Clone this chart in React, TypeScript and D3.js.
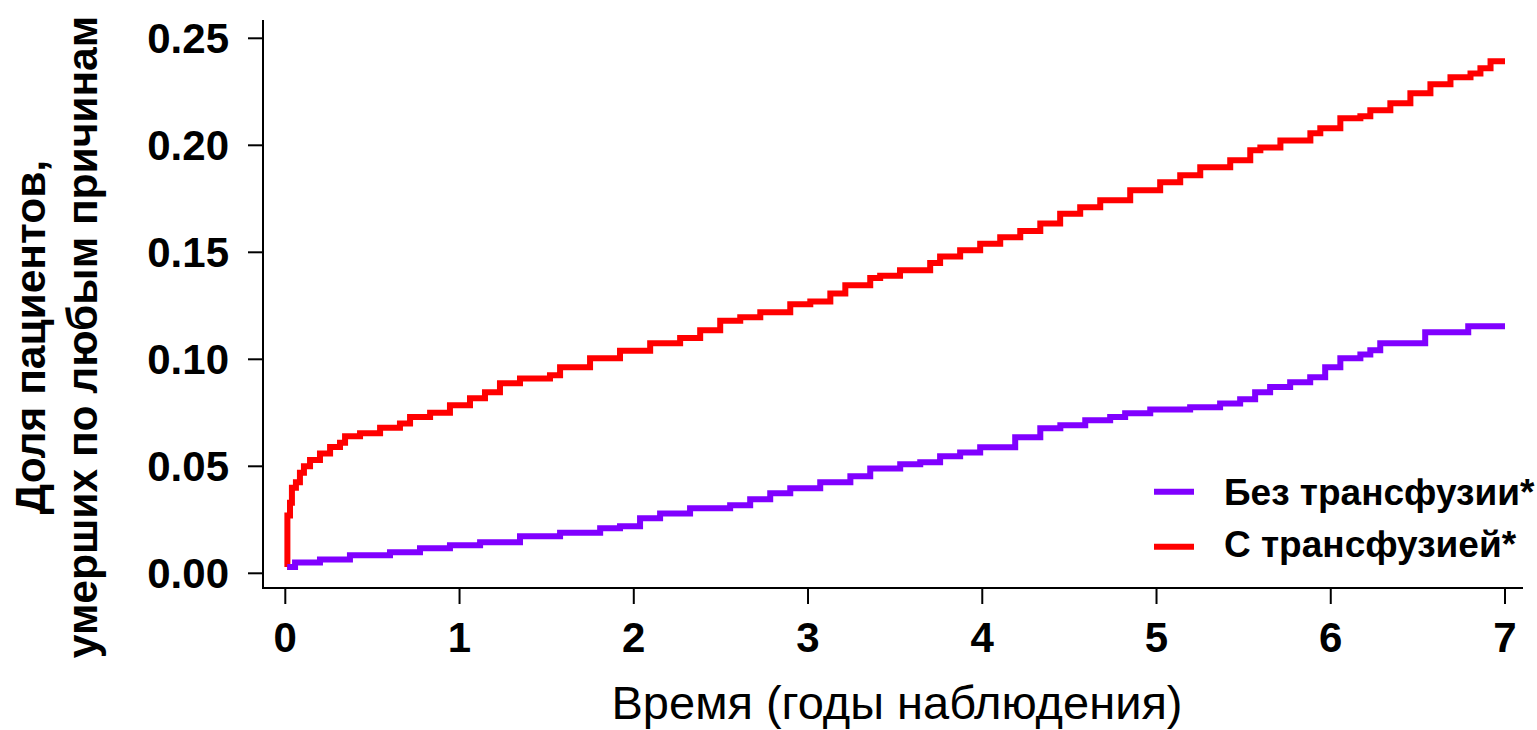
import React from "react";
import * as d3 from "d3";

// time (years), cumulative proportion
const redT = [0.011, 0.012, 0.027, 0.038, 0.061, 0.084, 0.107, 0.142, 0.199, 0.257, 0.314, 0.343, 0.429, 0.544, 0.658, 0.716, 0.831, 0.945, 1.06, 1.146, 1.232, 1.347, 1.519, 1.577, 1.749, 1.921, 2.094, 2.266, 2.381, 2.496, 2.611, 2.726, 2.898, 3.013, 3.128, 3.214, 3.357, 3.414, 3.528, 3.701, 3.758, 3.873, 3.988, 4.103, 4.218, 4.333, 4.447, 4.562, 4.677, 4.849, 5.021, 5.136, 5.251, 5.423, 5.538, 5.596, 5.711, 5.883, 5.94, 6.055, 6.17, 6.227, 6.342, 6.457, 6.572, 6.687, 6.802, 6.859, 6.917, 7.0];
const redV = [0.003, 0.027, 0.033, 0.04, 0.0425, 0.047, 0.05, 0.053, 0.056, 0.059, 0.061, 0.064, 0.0654, 0.068, 0.07, 0.073, 0.075, 0.0785, 0.0818, 0.0846, 0.0888, 0.091, 0.0925, 0.0963, 0.1005, 0.104, 0.1075, 0.11, 0.1136, 0.118, 0.1196, 0.122, 0.1257, 0.127, 0.1308, 0.1346, 0.138, 0.139, 0.1416, 0.145, 0.148, 0.151, 0.154, 0.157, 0.16, 0.1635, 0.168, 0.171, 0.1743, 0.179, 0.1827, 0.186, 0.1897, 0.193, 0.1977, 0.199, 0.2023, 0.2056, 0.208, 0.2126, 0.2136, 0.2164, 0.2196, 0.2243, 0.2285, 0.2318, 0.2336, 0.236, 0.2393, 0.2393];

const purpleT = [0.011, 0.056, 0.199, 0.371, 0.601, 0.773, 0.945, 1.118, 1.347, 1.577, 1.807, 1.921, 2.036, 2.151, 2.323, 2.553, 2.668, 2.783, 2.898, 3.07, 3.243, 3.357, 3.529, 3.644, 3.758, 3.873, 3.988, 4.189, 4.333, 4.448, 4.591, 4.734, 4.82, 4.964, 5.193, 5.365, 5.48, 5.566, 5.652, 5.767, 5.882, 5.968, 6.055, 6.17, 6.227, 6.284, 6.542, 6.789, 7.0];
const purpleV = [0.003, 0.005, 0.0065, 0.0084, 0.0098, 0.0117, 0.0131, 0.0145, 0.0173, 0.019, 0.021, 0.022, 0.0257, 0.028, 0.0304, 0.0318, 0.0346, 0.0374, 0.0397, 0.0425, 0.0453, 0.049, 0.051, 0.0519, 0.0547, 0.0565, 0.0589, 0.0636, 0.0678, 0.0692, 0.0715, 0.073, 0.0748, 0.0766, 0.0776, 0.0794, 0.0813, 0.0846, 0.087, 0.0893, 0.0916, 0.0963, 0.1005, 0.1023, 0.1042, 0.1075, 0.1126, 0.1154, 0.1154];

const xTicks = [0, 1, 2, 3, 4, 5, 6, 7];
const yTicks = [0, 0.05, 0.1, 0.15, 0.2, 0.25];

const seriesNames = ["Без трансфузии*", "С трансфузией*"];
const seriesColors = ["#8000FF", "#FF0000"];

export default function App() {
  const x = d3.scaleLinear().domain([0, 7]).range([285.3, 1505]);
  const y = d3.scaleLinear().domain([0, 0.25]).range([573.3, 38.3]);
  const line = d3
    .line<[number, number]>()
    .x((d) => x(d[0]))
    .y((d) => y(d[1]))
    .curve(d3.curveStepAfter);
  const purple: [number, number][] = purpleT.map((t, i) => [t, purpleV[i]]);
  const red: [number, number][] = redT.map((t, i) => [t, redV[i]]);
  const font = "'Liberation Sans', Arial, sans-serif";
  const axisY = 588;
  const axisX = 263;
  return (
    <svg
      width={1537}
      height={730}
      style={{ position: "absolute", left: 0, top: 0, background: "#fff" }}
      fontFamily={font}
    >
      <rect width={1537} height={730} fill="#fff" />
      {/* axes */}
      <line x1={axisX} x2={axisX} y1={20} y2={axisY + 1} stroke="#000" strokeWidth={2} />
      <line x1={axisX - 1} x2={1523} y1={axisY} y2={axisY} stroke="#000" strokeWidth={2} />
      {yTicks.map((t) => (
        <g key={"y" + t}>
          <line x1={248} x2={axisX} y1={y(t)} y2={y(t)} stroke="#000" strokeWidth={2} />
          <text
            x={229}
            y={y(t)}
            textAnchor="end"
            dominantBaseline="central"
            fontSize={42}
            fontWeight="bold"
          >
            {t.toFixed(2)}
          </text>
        </g>
      ))}
      {xTicks.map((t) => (
        <g key={"x" + t}>
          <line x1={x(t)} x2={x(t)} y1={axisY} y2={604} stroke="#000" strokeWidth={2} />
          <text x={x(t)} y={652} textAnchor="middle" fontSize={42} fontWeight="bold">
            {t}
          </text>
        </g>
      ))}
      {/* titles */}
      <text x={897} y={719} textAnchor="middle" fontSize={47}>
        Время (годы наблюдения)
      </text>
      <g transform="translate(45,337) rotate(-90)">
        <text x={0} y={0} textAnchor="middle" fontSize={42.5} fontWeight="bold">
          Доля пациентов,
        </text>
      </g>
      <g transform="translate(97,337) rotate(-90)">
        <text x={0} y={0} textAnchor="middle" fontSize={42.5} fontWeight="bold">
          умерших по любым причинам
        </text>
      </g>
      {/* series */}
      <path d={line(red) || ""} fill="none" stroke={seriesColors[1]} strokeWidth={6} />
      <path d={line(purple) || ""} fill="none" stroke={seriesColors[0]} strokeWidth={6} />
      {/* legend */}
      {seriesNames.map((n, i) => (
        <g key={n}>
          <line
            x1={1154}
            x2={1194}
            y1={491.7 + i * 55}
            y2={491.7 + i * 55}
            stroke={seriesColors[i]}
            strokeWidth={6}
          />
          <text x={1224} y={505 + i * 52} fontSize={37} fontWeight="bold">
            {n}
          </text>
        </g>
      ))}
    </svg>
  );
}
